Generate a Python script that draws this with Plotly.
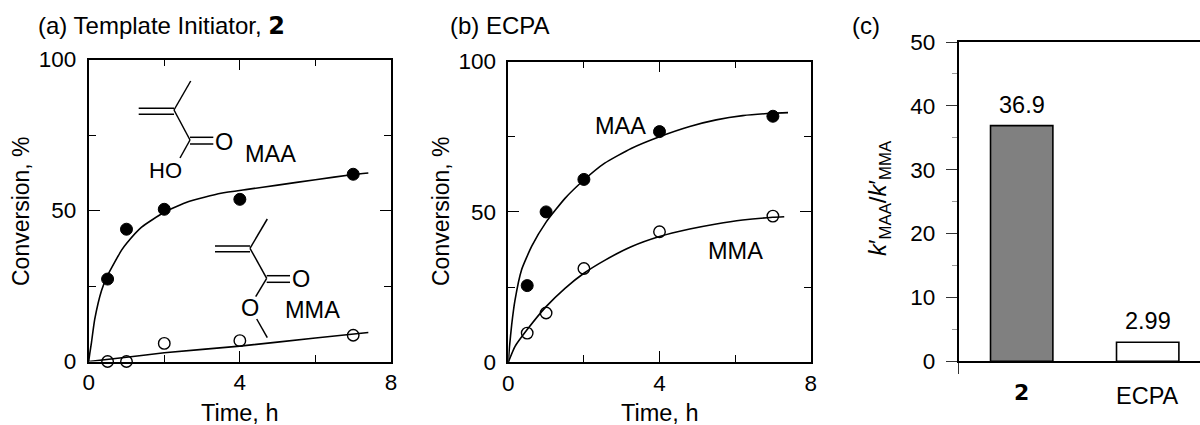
import plotly.graph_objects as go

W, H = 1200, 425
FONT = "Liberation Sans"
BOLD2 = '<span style="font-family:\'DejaVu Sans\';font-weight:bold">2</span>'

# Panel (a)
a_time = [0.5, 1, 2, 4, 7]
a_maa = [27.3, 43.8, 50.4, 53.7, 62]
a_mma = [0, 0, 6, 6.9, 8.7]
a_fit_t = [0, 0.03, 0.07, 0.16, 0.34, 0.5, 0.87, 1, 1.4, 2, 2.63, 3.5, 4.2, 5, 6, 7, 7.4]
a_fit_maa = [0, 2.8, 6, 14, 23.5, 28.5, 36.9, 39.1, 44.5, 49.4, 52.9, 55.7, 57, 58.4, 60.2, 61.9, 62.4]
a_mfit_t = [0, 1, 2, 4, 6, 7.4]
a_mfit_mma = [0, 1.4, 2.9, 5.1, 7.8, 9.6]

# Panel (b)
b_time = [0.5, 1, 2, 4, 7]
b_maa = [25.5, 50, 60.8, 76.7, 81.8]
b_mma = [9.7, 16.4, 31.2, 43.4, 48.6]
b_fit_t = [0, 0.03, 0.09, 0.175, 0.35, 0.62, 1, 1.5, 2, 2.55, 3.25, 4, 4.8, 5.5, 6.2, 7, 7.4]
b_fit_maa = [0, 5, 12.5, 20.5, 30.7, 38.6, 46.6, 54.5, 60.6, 66.2, 71.1, 75, 78.4, 80.6, 82, 82.8, 83]
b_mfit_t = [0, 0.175, 0.49, 1, 1.5, 2, 2.55, 3.25, 4, 4.8, 5.5, 6.2, 7, 7.3]
b_mfit_mma = [0, 5.2, 10.7, 18.5, 24.6, 29.6, 33.9, 38.4, 41.8, 44.3, 46, 47.3, 48.2, 48.4]

# Panel (c)
c_labels = [BOLD2, "ECPA"]
c_label_y = [392, 396]
c_values = [36.9, 2.99]
c_texts = ["36.9", "2.99"]
c_fills = ["#808080", "#ffffff"]

xticks = [0, 4, 8]
xminor = [2, 6]
yticks = [0, 50, 100]
yminor = [25, 75]

def X(px): return px / W
def Y(py): return 1 - py / H

fig = go.Figure()

def add_panel(t, filled, hollow, ft, fmaa, mt, fmma, xa, ya):
    line = dict(color="black", width=1.6)
    fig.add_trace(go.Scatter(x=ft, y=fmaa, mode="lines", line=dict(shape="spline", smoothing=0.5, **line), xaxis=xa, yaxis=ya, showlegend=False))
    fig.add_trace(go.Scatter(x=mt, y=fmma, mode="lines", line=dict(shape="spline", smoothing=0.5, **line), xaxis=xa, yaxis=ya, showlegend=False))
    fig.add_trace(go.Scatter(x=t, y=filled, mode="markers", cliponaxis=False, marker=dict(size=12, color="black", line=dict(color="black", width=1)), xaxis=xa, yaxis=ya, showlegend=False))
    fig.add_trace(go.Scatter(x=t, y=hollow, mode="markers", cliponaxis=False, marker=dict(size=11.5, symbol="circle-open", color="black", line=dict(color="black", width=1.4)), xaxis=xa, yaxis=ya, showlegend=False))

add_panel(a_time, a_maa, a_mma, a_fit_t, a_fit_maa, a_mfit_t, a_mfit_mma, "x", "y")
add_panel(b_time, b_maa, b_mma, b_fit_t, b_fit_maa, b_mfit_t, b_mfit_mma, "x2", "y2")

fig.add_trace(go.Bar(x=[0, 1], y=c_values, width=0.495, marker=dict(color=c_fills, line=dict(color="black", width=1.6)), xaxis="x3", yaxis="y3", showlegend=False))

tickfont = dict(family=FONT, size=22.5, color="black")

def line_axis(dom, anchor, vals, minor, rng, standoff):
    return dict(domain=dom, anchor=anchor, range=rng, tickmode="array", tickvals=vals, automargin=False,
                ticks="inside", ticklen=11, tickwidth=1.2, tickcolor="black", mirror="ticks", showline=True,
                linecolor="black", linewidth=1.7, showgrid=False, zeroline=False, tickfont=tickfont,
                ticklabelstandoff=standoff,
                minor=dict(tickmode="array", tickvals=minor, ticks="inside", ticklen=7, tickwidth=1.2, tickcolor="black"))

xa = line_axis([X(88.7), X(391)], "y", xticks, xminor, [0, 8], 0)
ya = line_axis([Y(361.5), Y(59.5)], "x", yticks, yminor, [0, 100], 6)
xb = line_axis([X(508.3), X(810.7)], "y2", xticks, xminor, [0, 8], 0)
yb = line_axis([Y(362.3), Y(61.5)], "x2", yticks, yminor, [0, 100], 6)

xc = dict(domain=[X(958.7), 1], anchor="y3", range=[-0.5, -0.5 + (1200 - 958.7) / 126], tickmode="array", automargin=False,
          tickvals=[-0.5], showticklabels=False, ticks="outside", ticklen=11, tickwidth=1, tickcolor="#333333",
          showline=True, linecolor="black", linewidth=1.8, mirror=True, showgrid=False, zeroline=False)
yc = dict(domain=[Y(361.3), Y(42)], anchor="x3", range=[0, 50], tickmode="array", tickvals=[0, 10, 20, 30, 40, 50], automargin=False,
          ticks="outside", ticklen=11, tickwidth=1, tickcolor="#333333", showline=True, linecolor="black", linewidth=2,
          showgrid=False, zeroline=False, tickfont=tickfont, ticklabelstandoff=6,
          minor=dict(tickmode="array", tickvals=[5, 15, 25, 35, 45], ticks="outside", ticklen=5, tickwidth=1, tickcolor="#999999"))

ann = []
def text(px, py, s, size=23.5, xanchor="center"):
    ann.append(dict(xref="paper", yref="paper", x=X(px), y=Y(py), text=s, showarrow=False, xanchor=xanchor, yanchor="middle",
                    font=dict(family=FONT, size=size, color="black")))

text(36, 26, "(a) Template Initiator, " + BOLD2, 24, "left")
text(448, 26, "(b) ECPA", 24, "left")
text(850, 26, "(c)", 24, "left")

text(239, 413, "Time, h")
text(659, 413, "Time, h")
for px, py in [(21, 211), (441, 211)]:
    ann.append(dict(xref="paper", yref="paper", x=X(px), y=Y(py), text="Conversion, %", textangle=-90, showarrow=False,
                    xanchor="center", yanchor="middle", font=dict(family=FONT, size=23, color="black")))
ann.append(dict(xref="paper", yref="paper", x=X(880), y=Y(198), text="<i>k</i>′<sub>MAA</sub>/<i>k</i>′<sub>MMA</sub>", textangle=-90,
                xanchor="center", yanchor="middle", showarrow=False, font=dict(family=FONT, size=24, color="black")))

text(270, 154, "MAA")
text(313, 310, "MMA")
text(620, 126, "MAA")
text(735, 251, "MMA")
text(224, 142, "O")
text(165, 170, "HO", 22)
text(301, 279, "O")
text(250, 308, "O")

for i, (lab, ly, val, txt) in enumerate(zip(c_labels, c_label_y, c_values, c_texts)):
    ann.append(dict(xref="x3", yref="y3", x=i, y=val, text=txt, showarrow=False, yanchor="bottom", yshift=6,
                    font=dict(family=FONT, size=23.5, color="black")))
    ann.append(dict(xref="x3", yref="paper", x=i, y=Y(ly), text=lab, showarrow=False, yanchor="middle",
                    font=dict(family=FONT, size=22 if i == 0 else 23.5, color="black")))

# Skeletal formula strokes (layout decoration, in page pixels)
bonds = [
    (190.7, 81, 174, 110), (138.7, 108.3, 174, 108.3), (138.7, 114.3, 174, 114.3), (174, 110, 190, 140),
    (190, 137.3, 213.3, 137.3), (190, 144, 213.3, 144), (190, 140, 180, 158),
    (267.3, 219, 250, 248.3), (215, 246, 250, 246), (215, 251.7, 250, 251.7), (250, 248.3, 266.7, 278.3),
    (266.7, 275.7, 290, 275.7), (266.7, 282.3, 290, 282.3), (266.7, 278.3, 255.7, 296.7), (256.7, 319, 267.3, 337.7),
]
shapes = [dict(type="line", xref="paper", yref="paper", x0=X(a), y0=Y(b), x1=X(c), y1=Y(d),
               line=dict(color="black", width=1.5)) for a, b, c, d in bonds]

fig.update_layout(template="none", width=W, height=H, margin=dict(l=0, r=0, t=0, b=0, pad=0), paper_bgcolor="white", plot_bgcolor="white",
                  xaxis=xa, yaxis=ya, xaxis2=xb, yaxis2=yb, xaxis3=xc, yaxis3=yc, annotations=ann, shapes=shapes,
                  showlegend=False)
fig.write_html("out.html", config=dict(displayModeBar=False), post_script="document.body.style.margin='0';document.body.style.overflow='hidden';")
